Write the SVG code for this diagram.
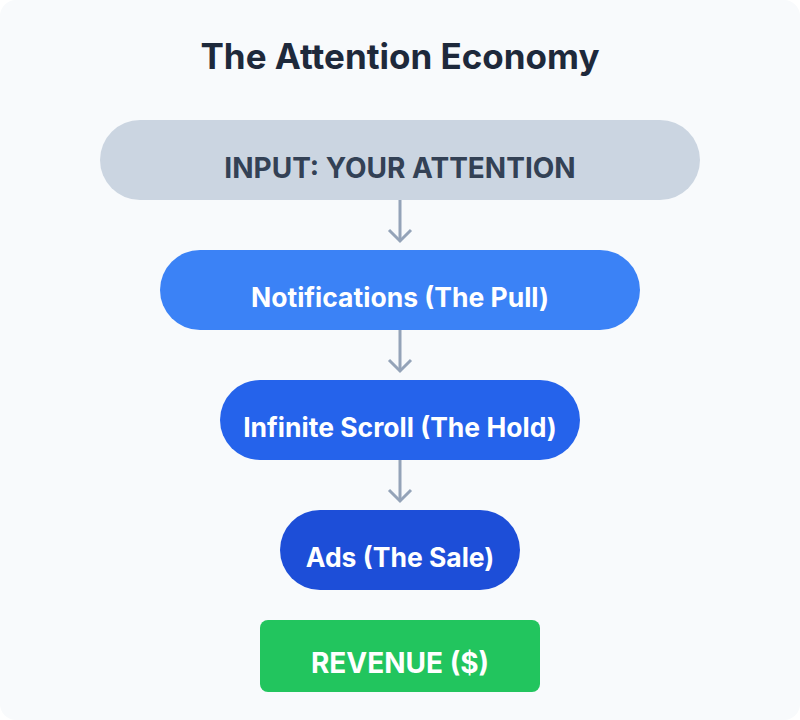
<svg xmlns="http://www.w3.org/2000/svg" width="800" height="720" viewBox="0 0 800 720">
<style>
.t{font-family:Inter,"Noto Sans","Liberation Sans",sans-serif;font-weight:700;text-anchor:middle}
.w{fill:#ffffff;font-size:26.5px}
.c{stroke:#94a3b8;stroke-width:3;fill:none}
</style>
<rect x="0" y="0" width="800" height="720" fill="#ffffff"/>
<rect x="0" y="0" width="800" height="720" rx="16" fill="#f8fafc"/>
<text class="t" x="400" y="69" font-size="35" fill="#1e293b">The Attention Economy</text>
<g id="connectors">
<line class="c" x1="400" y1="200" x2="400" y2="241"/>
<polyline class="c" points="389,230 400,241 411,230"/>
<line class="c" x1="400" y1="330" x2="400" y2="371"/>
<polyline class="c" points="389,360 400,371 411,360"/>
<line class="c" x1="400" y1="460" x2="400" y2="501"/>
<polyline class="c" points="389,490 400,501 411,490"/>
</g>
<g id="input">
<rect x="100" y="120" width="600" height="80" rx="40" fill="#cbd5e1"/>
<text class="t" x="400" y="178" font-size="28" fill="#334155">INPUT: YOUR ATTENTION</text>
</g>
<g id="notifications">
<rect x="160" y="250" width="480" height="80" rx="40" fill="#3b82f6"/>
<text class="t w" x="400" y="307">Notifications (The Pull)</text>
</g>
<g id="scroll">
<rect x="220" y="380" width="360" height="80" rx="40" fill="#2563eb"/>
<text class="t w" x="400" y="437">Infinite Scroll (The Hold)</text>
</g>
<g id="ads">
<rect x="280" y="510" width="240" height="80" rx="40" fill="#1d4ed8"/>
<text class="t w" x="400" y="567">Ads (The Sale)</text>
</g>
<g id="revenue">
<rect x="260" y="620" width="280" height="72" rx="8" fill="#22c55e"/>
<text class="t" x="400" y="673" font-size="28" fill="#ffffff">REVENUE ($)</text>
</g>
</svg>
